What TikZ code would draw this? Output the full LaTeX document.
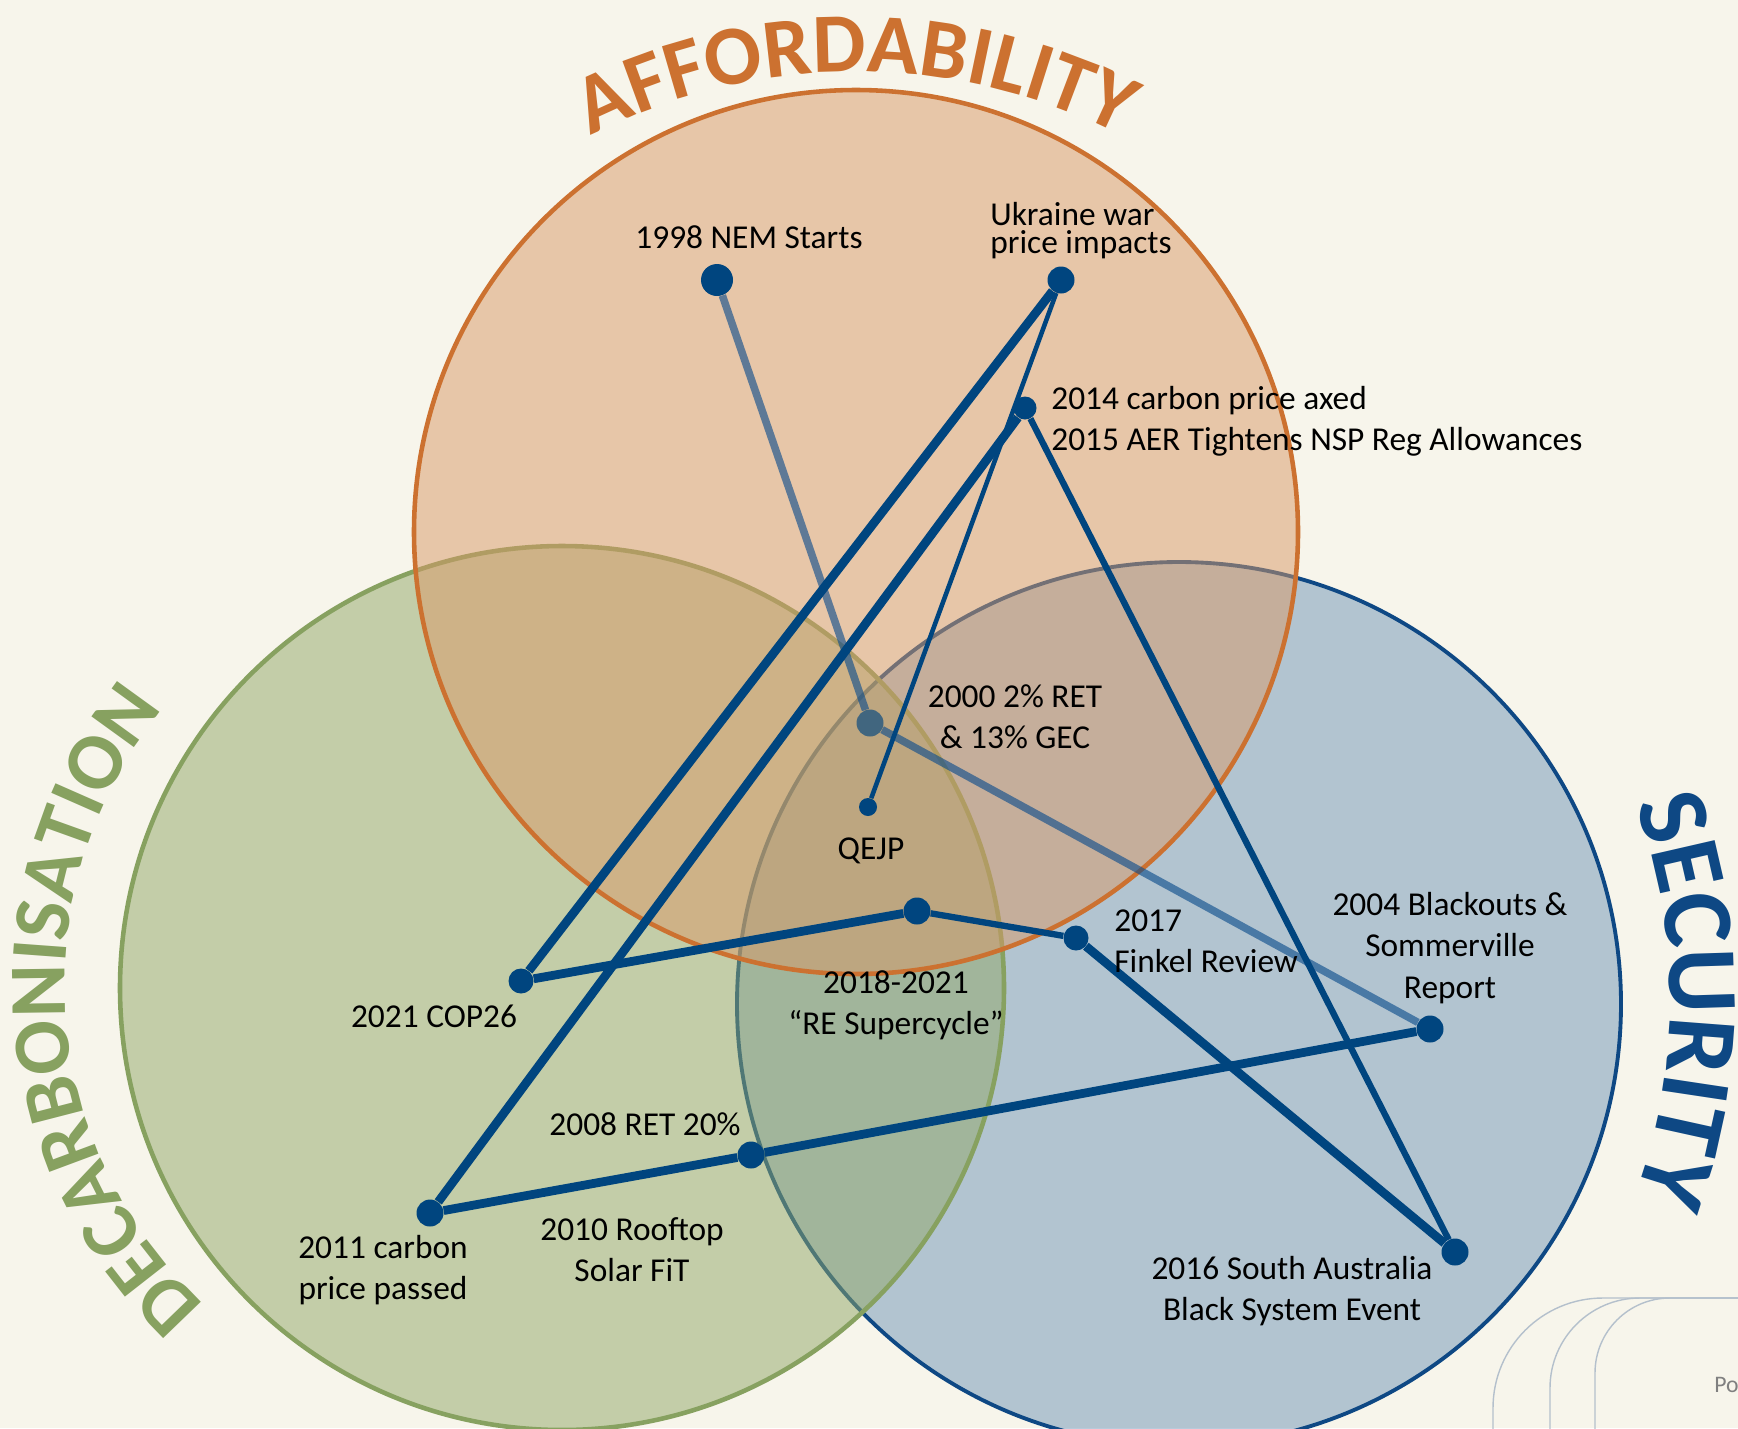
\documentclass[tikz,border=0pt]{standalone}
\usepackage{fontspec}
\setmainfont{Carlito}
\usepackage{xcolor}
\usetikzlibrary{positioning,decorations.text}

\definecolor{paper}{RGB}{247,245,235}
\definecolor{affordline}{RGB}{204,113,48}
\definecolor{affordfill}{RGB}{217,153,103}
\definecolor{decarbline}{RGB}{135,161,96}
\definecolor{decarbfill}{RGB}{145,167,103}
\definecolor{secline}{RGB}{14,72,132}
\definecolor{secfill}{RGB}{111,149,183}
\definecolor{linkcol}{RGB}{0,69,127}
\definecolor{fadecol}{RGB}{10,75,140}
\definecolor{cardline}{RGB}{180,192,204}
\newcommand{\titlefnt}{\fontsize{48}{48}\selectfont\bfseries}
\newcommand{\decfnt}{\fontsize{46}{46}\selectfont\bfseries}
\newcommand{\secfnt}{\fontsize{57}{57}\selectfont\bfseries}

\begin{document}
\begin{tikzpicture}[x=0.02cm, y=0.02cm,
    venn/.style={line width=2.6pt, fill opacity=0.5},
    dot/.style={circle, fill=linkcol, inner sep=0pt, minimum size=0.54cm},
    link/.style={draw=linkcol, line width=5pt},
    thinlink/.style={draw=linkcol, line width=3.6pt},
    fadelink/.style={draw=fadecol, line width=4.3pt, draw opacity=0.62},
    lbl/.style={font=\fontsize{19}{23.5}\selectfont, align=center, inner sep=0pt},
    card/.style={draw=cardline, line width=0.8pt}]

    \fill[paper] (0,0) rectangle (1738,-1428);
    \useasboundingbox (0,0) rectangle (1738,-1428);

    % the three circles, security at the bottom, affordability on top
    \draw[venn, draw=secline, line width=2.2pt, fill=secfill] (1179,-1004) circle[radius=442];
    \draw[venn, draw=decarbline, fill=decarbfill] (562,-988) circle[radius=442];
    \draw[venn, draw=affordline, fill=affordfill] (856,-532) circle[radius=442];

    % curved titles
    \path[decorate, decoration={text along path, text align=center, text color=affordline,
        text={|\titlefnt|AFFORDABILITY}}]
        ([shift={(150:584)}]856,-656) arc[start angle=150, end angle=30, radius=584];
    \path[decorate, decoration={text along path, text align=center, text color=decarbline,
        text={|\decfnt|DECARBONISATION}}]
        ([shift={(248:435)}]500,-985) arc[start angle=248, end angle=120, radius=435];
    \path[decorate, decoration={text along path, text align=center, text color=secline,
        text={|\secfnt|SECURITY}}]
        ([shift={(30:566)}]1104,-1000) arc[start angle=30, end angle=-30, radius=566];

    % events
    \node[dot, minimum size=0.64cm] (nem) at (717,-280) {};
    \node[dot] (ukraine) at (1061,-280) {};
    \node[dot, minimum size=0.46cm] (axed) at (1025,-408) {};
    \node[dot, fill opacity=0.65] (ret2000) at (870,-723) {};
    \node[dot, minimum size=0.36cm] (qejp) at (868,-807) {};
    \node[dot] (supercycle) at (917,-911) {};
    \node[dot, minimum size=0.5cm] (finkel) at (1076,-938) {};
    \node[dot, minimum size=0.5cm] (cop) at (521,-981) {};
    \node[dot] (blackout) at (1430,-1029) {};
    \node[dot] (ret2008) at (751,-1155) {};
    \node[dot] (carbon) at (430,-1213) {};
    \node[dot] (sablack) at (1455,-1252) {};

    % the path through time
    \draw[fadelink] (nem) -- (ret2000);
    \draw[fadelink] (ret2000) -- (blackout);
    \draw[link] (blackout) -- (ret2008);
    \draw[link] (ret2008) -- (carbon);
    \draw[link] (carbon) -- (axed);
    \draw[thinlink] (axed) -- (sablack);
    \draw[link] (sablack) -- (finkel);
    \draw[thinlink] (finkel) -- (supercycle);
    \draw[link] (supercycle) -- (cop);
    \draw[link] (cop) -- (ukraine);
    \draw[thinlink, line width=2.6pt] (ukraine) -- (qejp);

    % labels
    \node[lbl] (lnem) at (749,-237) {1998 NEM Starts};
    \node[lbl, align=left, anchor=west, font=\fontsize{19}{16}\selectfont] (lukraine) at (990,-231) {Ukraine war\\price impacts};
    \node[lbl, align=left, anchor=west] (laxed) at (1051,-421) {2014 carbon price axed\\2015 AER Tightens NSP Reg Allowances};
    \node[lbl] (lret2000) at (1015,-717) {2000 2\% RET\\\& 13\% GEC};
    \node[lbl] (lqejp) at (871,-851) {QEJP};
    \node[lbl, align=left, anchor=west] (lfinkel) at (1114,-941) {2017\\Finkel Review};
    \node[lbl] (lblackout) at (1450,-948) {2004 Blackouts \&\\Sommerville\\Report};
    \node[lbl] (lsuper) at (896,-1005) {2018-2021\\``RE Supercycle''};
    \node[lbl] (lcop) at (434,-1016) {2021 COP26};
    \node[lbl] (lret2008) at (645,-1124) {2008 RET 20\%};
    \node[lbl] (lcarbon) at (383,-1270) {2011 carbon\\price passed};
    \node[lbl] (lrooftop) at (632,-1250) {2010 Rooftop\\Solar FiT};
    \node[lbl] (lsa) at (1292,-1291) {2016 South Australia\\Black System Event};

    % stacked cards in the corner
    \draw[card, rounded corners=2.2cm] (1493,-1440) |- (1760,-1298);
    \draw[card, rounded corners=1.8cm] (1550,-1440) |- (1760,-1298);
    \draw[card, rounded corners=1.5cm] (1595,-1440) |- (1760,-1298);
    \node[anchor=base west, inner sep=0pt, text=gray, font=\fontsize{13.5}{16}\selectfont] (po) at (1714,-1392) {Po};
\end{tikzpicture}
\end{document}
